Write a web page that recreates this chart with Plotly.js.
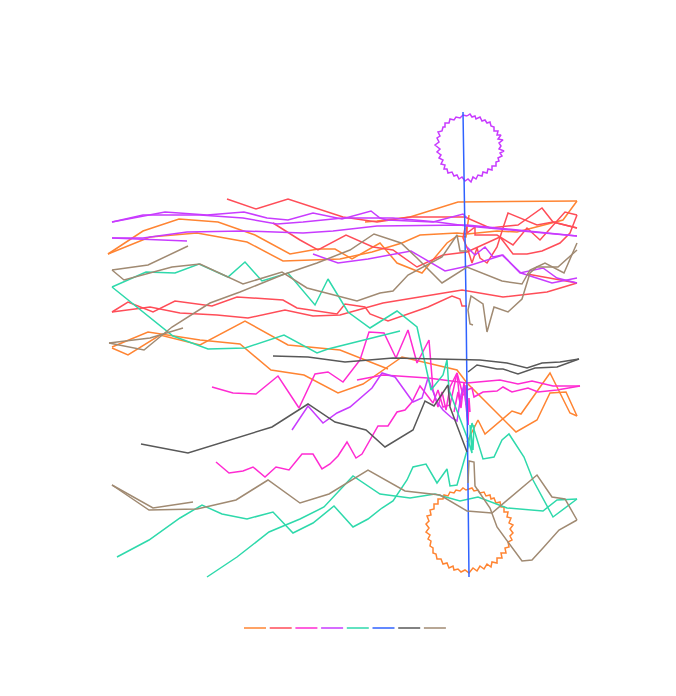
<!DOCTYPE html>
<html><head><meta charset="utf-8">
<script src="https://cdn.plot.ly/plotly-3.0.1.min.js"></script>
<style>html,body{margin:0;padding:0;background:#fff}</style></head>
<body><div id="chart"></div>
<script>
// Each polyline: list of [x, y] values.
const orangeTop=[[108,254],[143,231],[179,219],[218,222],[255,235],[290,254],[318,249],[335,249],[352,259],[380,243],[397,263],[422,273],[447,243],[457,236],[466,237],[469,215]];
const orangeSecond=[[108,254],[150,237],[197,233],[247,242],[283,261],[340,259],[372,252],[402,243],[420,235],[457,233],[467,234],[497,231],[517,232],[550,223],[563,220],[577,201]];
const orangeRise=[[365,222],[377,221],[410,217],[458,202],[577,201]];
const orangeMidA=[[112,348],[128,355],[160,335],[200,345],[245,321],[288,345],[340,350],[388,369]];
const orangeMidB=[[112,347],[148,332],[200,340],[240,344],[271,370],[304,375],[338,393],[363,384],[402,357],[457,370],[467,383],[516,432],[537,420],[550,393],[566,392],[577,416]];
const orangeMidC=[[467,442],[478,420],[485,434],[512,411],[521,414],[550,373],[570,413],[577,416]];
const orangeRing=[[469,489],[472,488],[474,491],[478,490],[480,493],[484,492],[486,496],[490,495],[491,499],[494,498],[496,503],[500,502],[501,507],[504,507],[504,512],[508,512],[507,517],[511,518],[509,523],[513,525],[510,529],[513,533],[510,536],[512,540],[508,542],[509,547],[505,548],[506,553],[501,553],[502,558],[497,558],[497,563],[492,562],[491,567],[487,564],[484,569],[480,566],[477,571],[473,568],[469,573],[465,570],[461,572],[458,569],[454,570],[453,566],[449,568],[447,563],[443,564],[441,559],[437,559],[436,554],[433,553],[433,548],[430,546],[431,541],[428,539],[430,535],[426,532],[429,528],[426,524],[429,521],[427,516],[431,515],[430,510],[434,509],[434,504],[438,504],[438,499],[443,499],[444,495],[448,496],[450,492],[454,493],[456,490],[460,491],[463,488],[466,490],[469,489]];

const redTop=[[227,199],[256,209],[288,199],[343,217],[377,222],[410,217],[465,217],[490,228],[518,225],[542,208],[553,222],[577,228]];
const redSecond=[[273,223],[300,240],[318,250],[346,235],[373,247],[393,250],[417,267],[443,255],[467,252],[487,243],[500,237],[513,254],[527,254],[542,251],[560,243],[570,233],[577,215]];
const redTangleB=[[466,225],[467,233],[475,227],[475,235],[497,235],[513,245],[527,228],[540,240],[565,212],[577,215]];
const redTangleC=[[465,228],[463,238],[468,250],[472,263],[477,248],[480,258],[487,263],[497,247],[503,228],[508,213],[537,225],[553,222],[577,228]];
const redMidA=[[112,312],[128,302],[153,312],[175,301],[212,306],[237,297],[283,300],[297,308],[337,314],[345,304],[365,307],[370,314],[388,321],[428,307],[452,296],[460,299],[462,306],[467,306]];
const redMidB=[[112,312],[150,307],[180,313],[217,315],[248,318],[285,310],[313,316],[340,315],[383,303],[462,290],[503,297],[547,292],[577,283]];
const redShort=[[527,274],[577,283]];

const magentaA=[[212,387],[233,393],[256,394],[278,376],[299,408],[315,374],[328,372],[343,382],[360,360],[369,332],[384,333],[396,358],[408,330],[417,363],[429,340],[433,390],[438,407],[442,392],[446,410],[450,387],[457,373],[460,403],[465,385],[468,425]];
const magentaB=[[216,462],[229,473],[243,471],[253,467],[265,477],[276,467],[289,470],[302,454],[313,454],[322,469],[330,464],[338,456],[347,442],[356,458],[362,454],[378,426],[388,426],[397,412],[405,410],[412,402],[420,386],[427,395],[433,403],[438,390],[443,407],[450,405],[457,373],[463,395],[466,393],[468,422]];
const magentaC=[[357,380],[383,375],[428,378],[467,383],[500,380],[518,384],[532,381],[553,386],[580,386]];
const magentaD=[[467,390],[472,388],[474,397],[483,392],[497,391],[503,387],[512,392],[528,388],[538,392],[557,390],[580,386]];
const magentaE=[[454,412],[458,392],[461,408],[464,382],[466,405],[467,385],[468,425],[469,398],[470,412]];

const purpleUpperA=[[112,222],[165,212],[207,215],[244,212],[267,218],[288,220],[313,213],[342,219],[371,211],[380,218],[387,220],[433,222],[463,214],[467,218]];
const purpleUpperB=[[112,222],[143,215],[200,215],[243,218],[277,224],[303,222],[343,218],[393,218],[437,222],[467,226],[577,236]];
const purpleUpperC=[[112,238],[143,238],[187,232],[243,231],[303,233],[333,231],[377,226],[467,225],[577,236]];
const purpleShort=[[112,238],[187,241]];
const purpleMidA=[[313,254],[338,263],[368,259],[411,251],[445,271],[468,266],[503,255],[520,273],[543,268],[557,278],[577,283]];
const purpleMidB=[[467,247],[475,255],[485,247],[493,257],[502,255],[521,273],[552,283],[577,278]];
const purpleLow=[[292,430],[308,406],[323,423],[337,413],[350,407],[372,388],[382,373],[395,377],[413,402],[422,398],[428,378],[437,402],[443,410],[452,418],[457,421],[461,395],[464,386],[468,425]];
const purpleRing=[[467,116],[470,114],[472,117],[475,116],[476,119],[480,117],[482,121],[485,120],[487,123],[490,122],[491,126],[494,127],[494,131],[498,131],[497,135],[501,135],[498,139],[503,140],[499,143],[501,146],[499,149],[504,151],[500,153],[502,156],[498,158],[499,161],[496,162],[496,166],[492,166],[492,170],[488,169],[487,173],[483,172],[482,176],[478,175],[476,179],[473,177],[471,182],[468,179],[465,181],[462,177],[459,179],[457,175],[454,176],[452,172],[448,173],[447,169],[444,169],[445,165],[441,164],[443,160],[439,158],[441,155],[437,152],[440,149],[435,145],[439,142],[437,138],[440,136],[438,132],[442,131],[443,127],[445,127],[445,123],[449,123],[450,119],[454,120],[456,117],[460,118],[463,115],[467,116]];

const tealA=[[112,287],[146,272],[175,273],[199,264],[228,277],[245,262],[262,281],[288,273],[315,305],[328,279],[348,312],[370,328],[397,311],[417,327],[425,363],[431,390],[443,375],[447,360],[449,390],[467,437],[472,453],[470,425],[473,450],[474,425]];
const tealB=[[112,287],[173,336],[208,349],[245,348],[284,335],[317,353],[328,349],[400,331]];
const tealC=[[117,557],[149,540],[180,518],[202,505],[222,514],[247,519],[273,512],[293,533],[313,523],[334,506],[353,527],[368,519],[382,508],[393,501],[407,480],[413,467],[426,464],[437,483],[447,469],[450,486],[457,485],[468,447],[472,423],[483,459],[494,457],[502,440],[509,434],[524,457],[533,480],[553,517],[577,499]];
const tealD=[[207,577],[237,557],[269,532],[300,519],[324,507],[353,476],[380,494],[410,498],[435,494],[460,501],[478,497],[507,508],[543,511],[557,500],[577,499]];

const blueLine=[[463,112],[466,300],[469,577]];

const grayA=[[273,356],[308,357],[345,362],[393,358],[480,360],[507,363],[527,368],[542,363],[560,362],[579,359]];
const grayB=[[468,372],[477,365],[497,369],[503,369],[518,374],[535,368],[557,367],[579,359]];
const grayC=[[141,444],[188,453],[272,427],[308,404],[335,422],[366,430],[385,447],[413,430],[425,401],[434,406],[448,385],[450,407],[467,452]];

const brownA=[[112,270],[148,265],[188,246]];
const brownB=[[112,270],[124,280],[172,267],[200,264],[243,284],[282,272],[307,288],[333,295],[357,301],[380,293],[393,291],[408,275],[442,257],[457,235],[460,251],[467,251]];
const brownC=[[109,343],[144,350],[172,327],[210,303],[240,292],[282,275],[317,263],[350,250],[374,234],[401,243],[417,258],[442,283],[467,267],[502,281],[522,284],[530,270],[545,263],[564,273],[577,243]];
const brownD=[[109,343],[150,338],[183,328]];
const brownE=[[473,325],[470,324],[468,310],[471,296],[483,304],[487,332],[494,307],[508,312],[522,299],[530,273],[537,267],[558,267],[577,250]];
const brownF=[[112,485],[149,510],[197,509],[236,500],[268,480],[300,503],[329,494],[368,470],[405,491],[440,495],[467,511],[492,513],[537,475],[552,497],[565,499],[577,520]];
const brownG=[[112,485],[153,508],[193,502]];
const brownH=[[468,483],[469,461],[474,462],[475,486],[490,508],[497,527],[522,561],[532,560],[543,548],[559,530],[577,520]];

const seriesNames=['orange','red','magenta','purple','teal','blue','gray','brown'];
const seriesColors=['#ff8432','#ff4d58','#ff2bd2','#c83bff','#2ed9ab','#2f62ff','#585858','#a08a72'];
const seriesLines=[
  [orangeTop,orangeSecond,orangeRise,orangeMidA,orangeMidB,orangeMidC,orangeRing],
  [redTop,redSecond,redTangleB,redTangleC,redMidA,redMidB,redShort],
  [magentaA,magentaB,magentaC,magentaD,magentaE],
  [purpleUpperA,purpleUpperB,purpleUpperC,purpleShort,purpleMidA,purpleMidB,purpleLow,purpleRing],
  [tealA,tealB,tealC,tealD],
  [blueLine],
  [grayA,grayB,grayC],
  [brownA,brownB,brownC,brownD,brownE,brownF,brownG,brownH]
];

const traces=seriesLines.map((lines,i)=>{
  const x=[],y=[];
  lines.forEach(l=>{l.forEach(p=>{x.push(p[0]);y.push(p[1]);});x.push(null);y.push(null);});
  return {type:'scatter',mode:'lines',name:seriesNames[i],x:x,y:y,connectgaps:false,
    line:{color:seriesColors[i],width:1.5,shape:'linear'},hoverinfo:'skip',showlegend:false};
});

// Legend keys as a row of short strokes under the plot.
const keyY=628, keyStart=244, keyPitch=25.7, keyLen=22;
const keys=seriesColors.map((c,i)=>({type:'line',xref:'paper',yref:'paper',
  x0:(keyStart+i*keyPitch)/676,x1:(keyStart+i*keyPitch+keyLen)/676,
  y0:1-keyY/696,y1:1-keyY/696,line:{color:c,width:1.5}}));

Plotly.newPlot('chart',traces,{
  width:676,height:696,margin:{l:0,r:0,t:0,b:0},
  paper_bgcolor:'#fff',plot_bgcolor:'#fff',showlegend:false,
  xaxis:{range:[0,676],visible:false,fixedrange:true},
  yaxis:{range:[696,0],visible:false,fixedrange:true},
  shapes:keys
},{displayModeBar:false,staticPlot:true});
</script></body></html>
